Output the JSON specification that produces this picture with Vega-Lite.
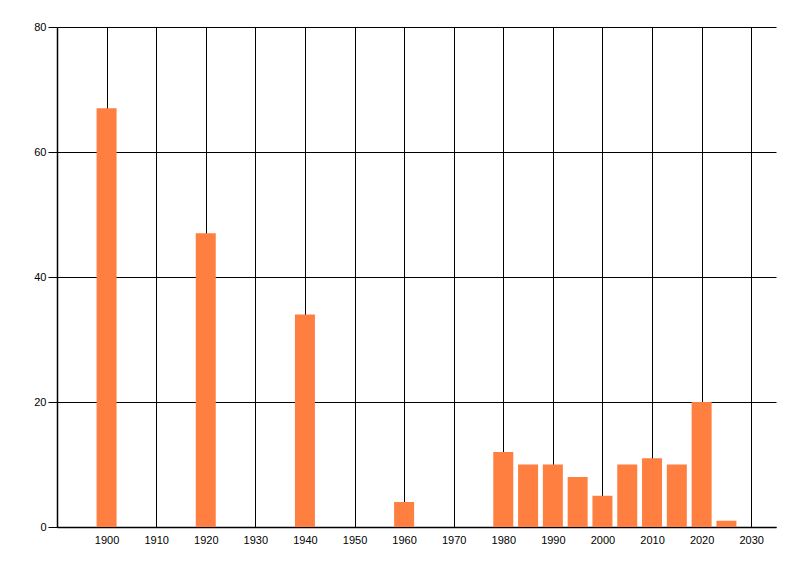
{
  "$schema": "https://vega.github.io/schema/vega-lite/v6.json",
  "autosize": {"type": "none"},
  "width": 719,
  "height": 500,
  "padding": {"left": 57, "top": 27, "right": 24, "bottom": 49},
  "background": "white",
  "data": {
    "values": [
      {"year": 1900, "count": 67},
      {"year": 1920, "count": 47},
      {"year": 1940, "count": 34},
      {"year": 1960, "count": 4},
      {"year": 1980, "count": 12},
      {"year": 1985, "count": 10},
      {"year": 1990, "count": 10},
      {"year": 1995, "count": 8},
      {"year": 2000, "count": 5},
      {"year": 2005, "count": 10},
      {"year": 2010, "count": 11},
      {"year": 2015, "count": 10},
      {"year": 2020, "count": 20},
      {"year": 2025, "count": 1}
    ]
  },
  "mark": {"type": "bar", "color": "#ff7f41", "size": 20},
  "encoding": {
    "x": {
      "field": "year",
      "type": "quantitative",
      "title": null,
      "scale": {"domain": [1890, 2035], "nice": false, "zero": false, "padding": 0},
      "axis": {
        "values": [1900, 1910, 1920, 1930, 1940, 1950, 1960, 1970, 1980, 1990, 2000, 2010, 2020, 2030],
        "format": "d",
        "grid": true,
        "gridColor": "black",
        "gridOpacity": 1,
        "gridWidth": 1,
        "ticks": false,
        "domainColor": "black",
        "domainWidth": 1.5,
        "labelPadding": 7,
        "labelFont": "Liberation Sans",
        "labelFontSize": 11,
        "labelColor": "black"
      }
    },
    "y": {
      "field": "count",
      "type": "quantitative",
      "title": null,
      "scale": {"domain": [0, 80], "nice": false},
      "axis": {
        "values": [0, 20, 40, 60, 80],
        "grid": true,
        "gridColor": "black",
        "gridOpacity": 1,
        "gridWidth": 1,
        "tickColor": "black",
        "tickSize": 9,
        "domainColor": "black",
        "domainWidth": 1.5,
        "labelPadding": 2,
        "labelFont": "Liberation Sans",
        "labelFontSize": 11,
        "labelColor": "black"
      }
    }
  },
  "config": {
    "view": {"stroke": null}
  }
}
